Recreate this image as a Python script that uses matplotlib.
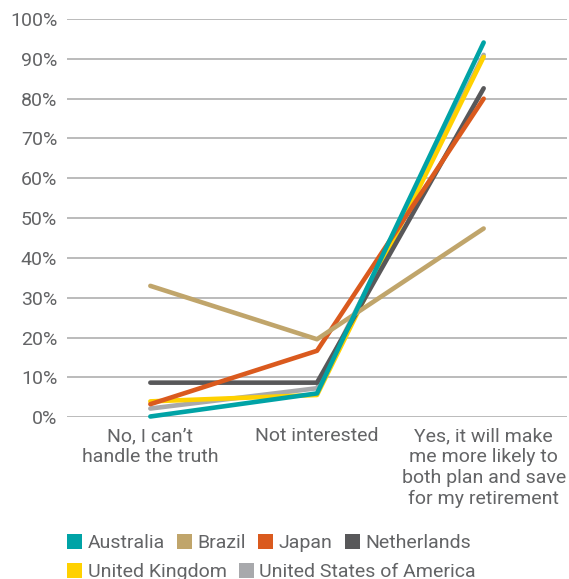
import matplotlib
matplotlib.use("Agg")
import matplotlib.pyplot as plt
from matplotlib.patches import Patch

categories = ["No, I can\u2019t\nhandle the truth", "Not interested",
              "Yes, it will make\nme more likely to\nboth plan and save\nfor my retirement"]
countries = ["Australia", "Brazil", "Japan", "Netherlands", "United Kingdom", "United States of America"]
australia = [0.2, 6.0, 94.1]
brazil = [33.0, 19.6, 47.4]
japan = [3.3, 16.7, 80.0]
netherlands = [8.7, 8.7, 82.6]
united_kingdom = [4.0, 5.6, 90.5]
usa = [2.2, 7.3, 91.0]
yticks = [0, 10, 20, 30, 40, 50, 60, 70, 80, 90, 100]
ytick_labels = [f"{v}%" for v in yticks]

series = [australia, brazil, japan, netherlands, united_kingdom, usa]
colors = ["#00A3A6", "#C0A56B", "#DA5A1E", "#58585A", "#FFD100", "#A8A9AC"]

plt.rcParams['font.family'] = ['Roboto', 'DejaVu Sans']
text_color = "#636466"

fig = plt.figure(figsize=(5.69, 5.79), dpi=100)
ax = fig.add_axes([67/569, 1 - 417.3/579, 500/569, (417.3 - 19)/579])

x = list(range(len(categories)))
# draw in reverse so Australia is on top
for i in reversed(range(len(series))):
    ax.plot(x, series[i], color=colors[i], lw=3.3, solid_capstyle='round',
            solid_joinstyle='round', clip_on=False, zorder=3 + (len(series) - i))

ax.set_xlim(-0.5, 2.5)
ax.set_ylim(0, 100)
ax.set_yticks(yticks)
ax.set_yticklabels(ytick_labels)
ax.set_xticks(x)
ax.set_xticklabels(categories, linespacing=1.2)
ax.tick_params(axis='both', length=0, labelsize=14, colors=text_color)
ax.tick_params(axis='y', pad=7)
ax.tick_params(axis='x', pad=7)
for s in ax.spines.values():
    s.set_visible(False)
ax.grid(axis='y', color="#B5B5B5", lw=1.3)
ax.set_axisbelow(True)

handles = [Patch(facecolor=c, edgecolor='none') for c in colors]
leg_kw = dict(frameon=False, fontsize=14, handlelength=0.78, handleheight=0.78,
              handletextpad=0.28, columnspacing=0.62, borderpad=0, borderaxespad=0,
              labelcolor=text_color)
leg1 = fig.legend(handles[:4], countries[:4], ncol=4, loc='center left',
                  bbox_to_anchor=(67/569, 1 - 543/579), **leg_kw)
leg2 = fig.legend(handles[4:], countries[4:], ncol=2, loc='center left',
                  bbox_to_anchor=(67/569, 1 - 572/579), **leg_kw)

fig.savefig("out.png", dpi=100)
